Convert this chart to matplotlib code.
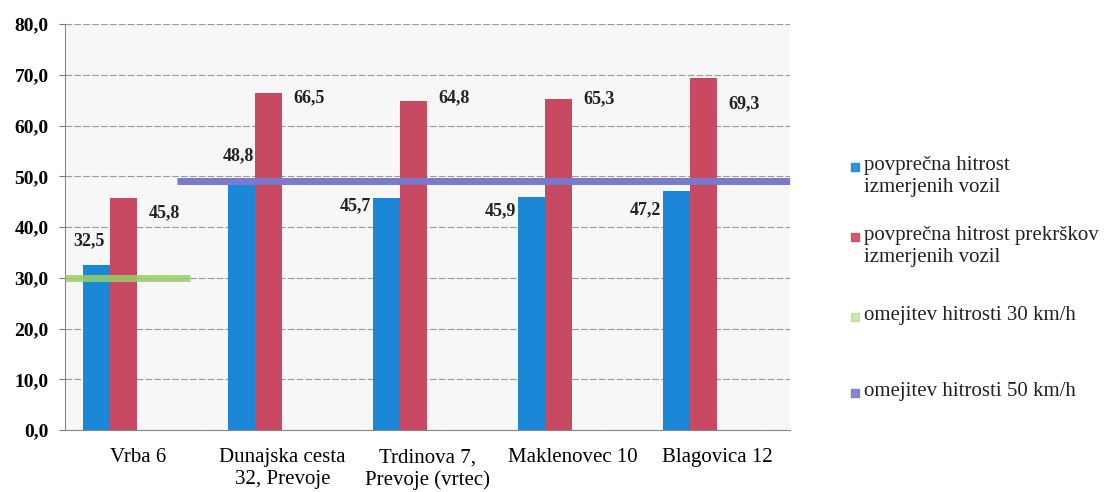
import matplotlib
matplotlib.use("Agg")
import matplotlib.pyplot as plt
import numpy as np
from matplotlib.patches import Rectangle

categories = ["Vrba 6", "Dunajska cesta\n32, Prevoje", "Trdinova 7,\nPrevoje (vrtec)",
              "Maklenovec 10", "Blagovica 12"]
avg_speed = [32.5, 48.8, 45.7, 45.9, 47.2]
avg_violation = [45.8, 66.5, 64.8, 65.3, 69.3]
limit30 = 30.0
limit50 = 49.0
yticks = [0, 10, 20, 30, 40, 50, 60, 70, 80]
legend_labels = ["povprečna hitrost\nizmerjenih vozil",
                 "povprečna hitrost prekrškov\nizmerjenih vozil",
                 "omejitev hitrosti 30 km/h",
                 "omejitev hitrosti 50 km/h"]

BLUE = "#1c87d6"
RED = "#c84a62"
GREEN = "#9acd68"
PURPLE = "#7d79c9"
SERIF = ["Liberation Serif", "DejaVu Serif"]

def fmt(v):
    return f"{v:.1f}".replace(".", ",")

fig = plt.figure(figsize=(11.06, 4.92), dpi=100)
ax = fig.add_axes([0.059, 0.126, 0.655, 0.825])
ax.set_facecolor("#f7f7f7")

x = np.arange(len(categories))
w = 0.186
xb = x - 0.283
xr = x - 0.097
ax.bar(xb, avg_speed, width=w, color=BLUE, zorder=3)
ax.bar(xr, avg_violation, width=w, color=RED, zorder=3)

# limit lines
ax.hlines(limit30, -0.5, 0.36, color=GREEN, lw=5, alpha=0.85, zorder=4)
ax.hlines(limit50, 0.27, 4.52, color=PURPLE, lw=5, zorder=4)

# data labels
blue_dy = [4.8, 5.2, -1.4, -2.6, -3.8]
blue_ha = ["center", "center", "right", "right", "right"]
for i, v in enumerate(avg_speed):
    if blue_ha[i] == "right":
        xx = xb[i] - w / 2 - 0.01
    else:
        xx = xb[i] - (0.05 if i == 0 else 0.02)
    ax.text(xx, v + blue_dy[i], fmt(v), ha=blue_ha[i], va="center",
            fontsize=13, fontweight="bold", family=SERIF, color="#222222", zorder=5)
red_dy = [-2.9, -1.0, 0.6, 0.0, -4.9]
for i, v in enumerate(avg_violation):
    ax.text(xr[i] + w / 2 + 0.08, v + red_dy[i], fmt(v), ha="left", va="center",
            fontsize=13, fontweight="bold", family=SERIF, color="#222222", zorder=5)

ax.set_xlim(-0.5, 4.5)
ax.set_ylim(0, 80)
ax.set_yticks(yticks)
ax.set_yticklabels([fmt(t) for t in yticks], family=SERIF, fontsize=14, fontweight="bold")
ax.set_xticks(x)
ax.set_xticklabels(categories, family=SERIF, fontsize=15, linespacing=1.2)
ax.tick_params(axis="x", length=0, pad=13)
ax.tick_params(axis="y", length=4, color="#777777", pad=8)
ax.grid(axis="y", color="#9a9a9a", lw=0.8, ls=(0, (6, 2)), zorder=0)
for s in ["top", "right"]:
    ax.spines[s].set_visible(False)
ax.spines["left"].set_color("#888888")
ax.spines["bottom"].set_color("#888888")
ax.spines["left"].set_linewidth(0.8)
ax.spines["bottom"].set_linewidth(0.8)

# legend
colors = [BLUE, RED, GREEN, PURPLE]
ys = [167, 237, 317, 393]
for lab, c, yy in zip(legend_labels, colors, ys):
    yf = 1 - yy / 492
    fig.patches.append(Rectangle((851 / 1106, yf - 4 / 492), 8 / 1106, 8 / 492,
                                 transform=fig.transFigure, color=c,
                                 alpha=0.9 if c != GREEN else 0.5))
    fig.text(864 / 1106, yf + 11 / 492, lab, family=SERIF, fontsize=15, va="top",
             ha="left", linespacing=1.2, color="#222222")

fig.savefig("out.png", dpi=100, facecolor="white")
